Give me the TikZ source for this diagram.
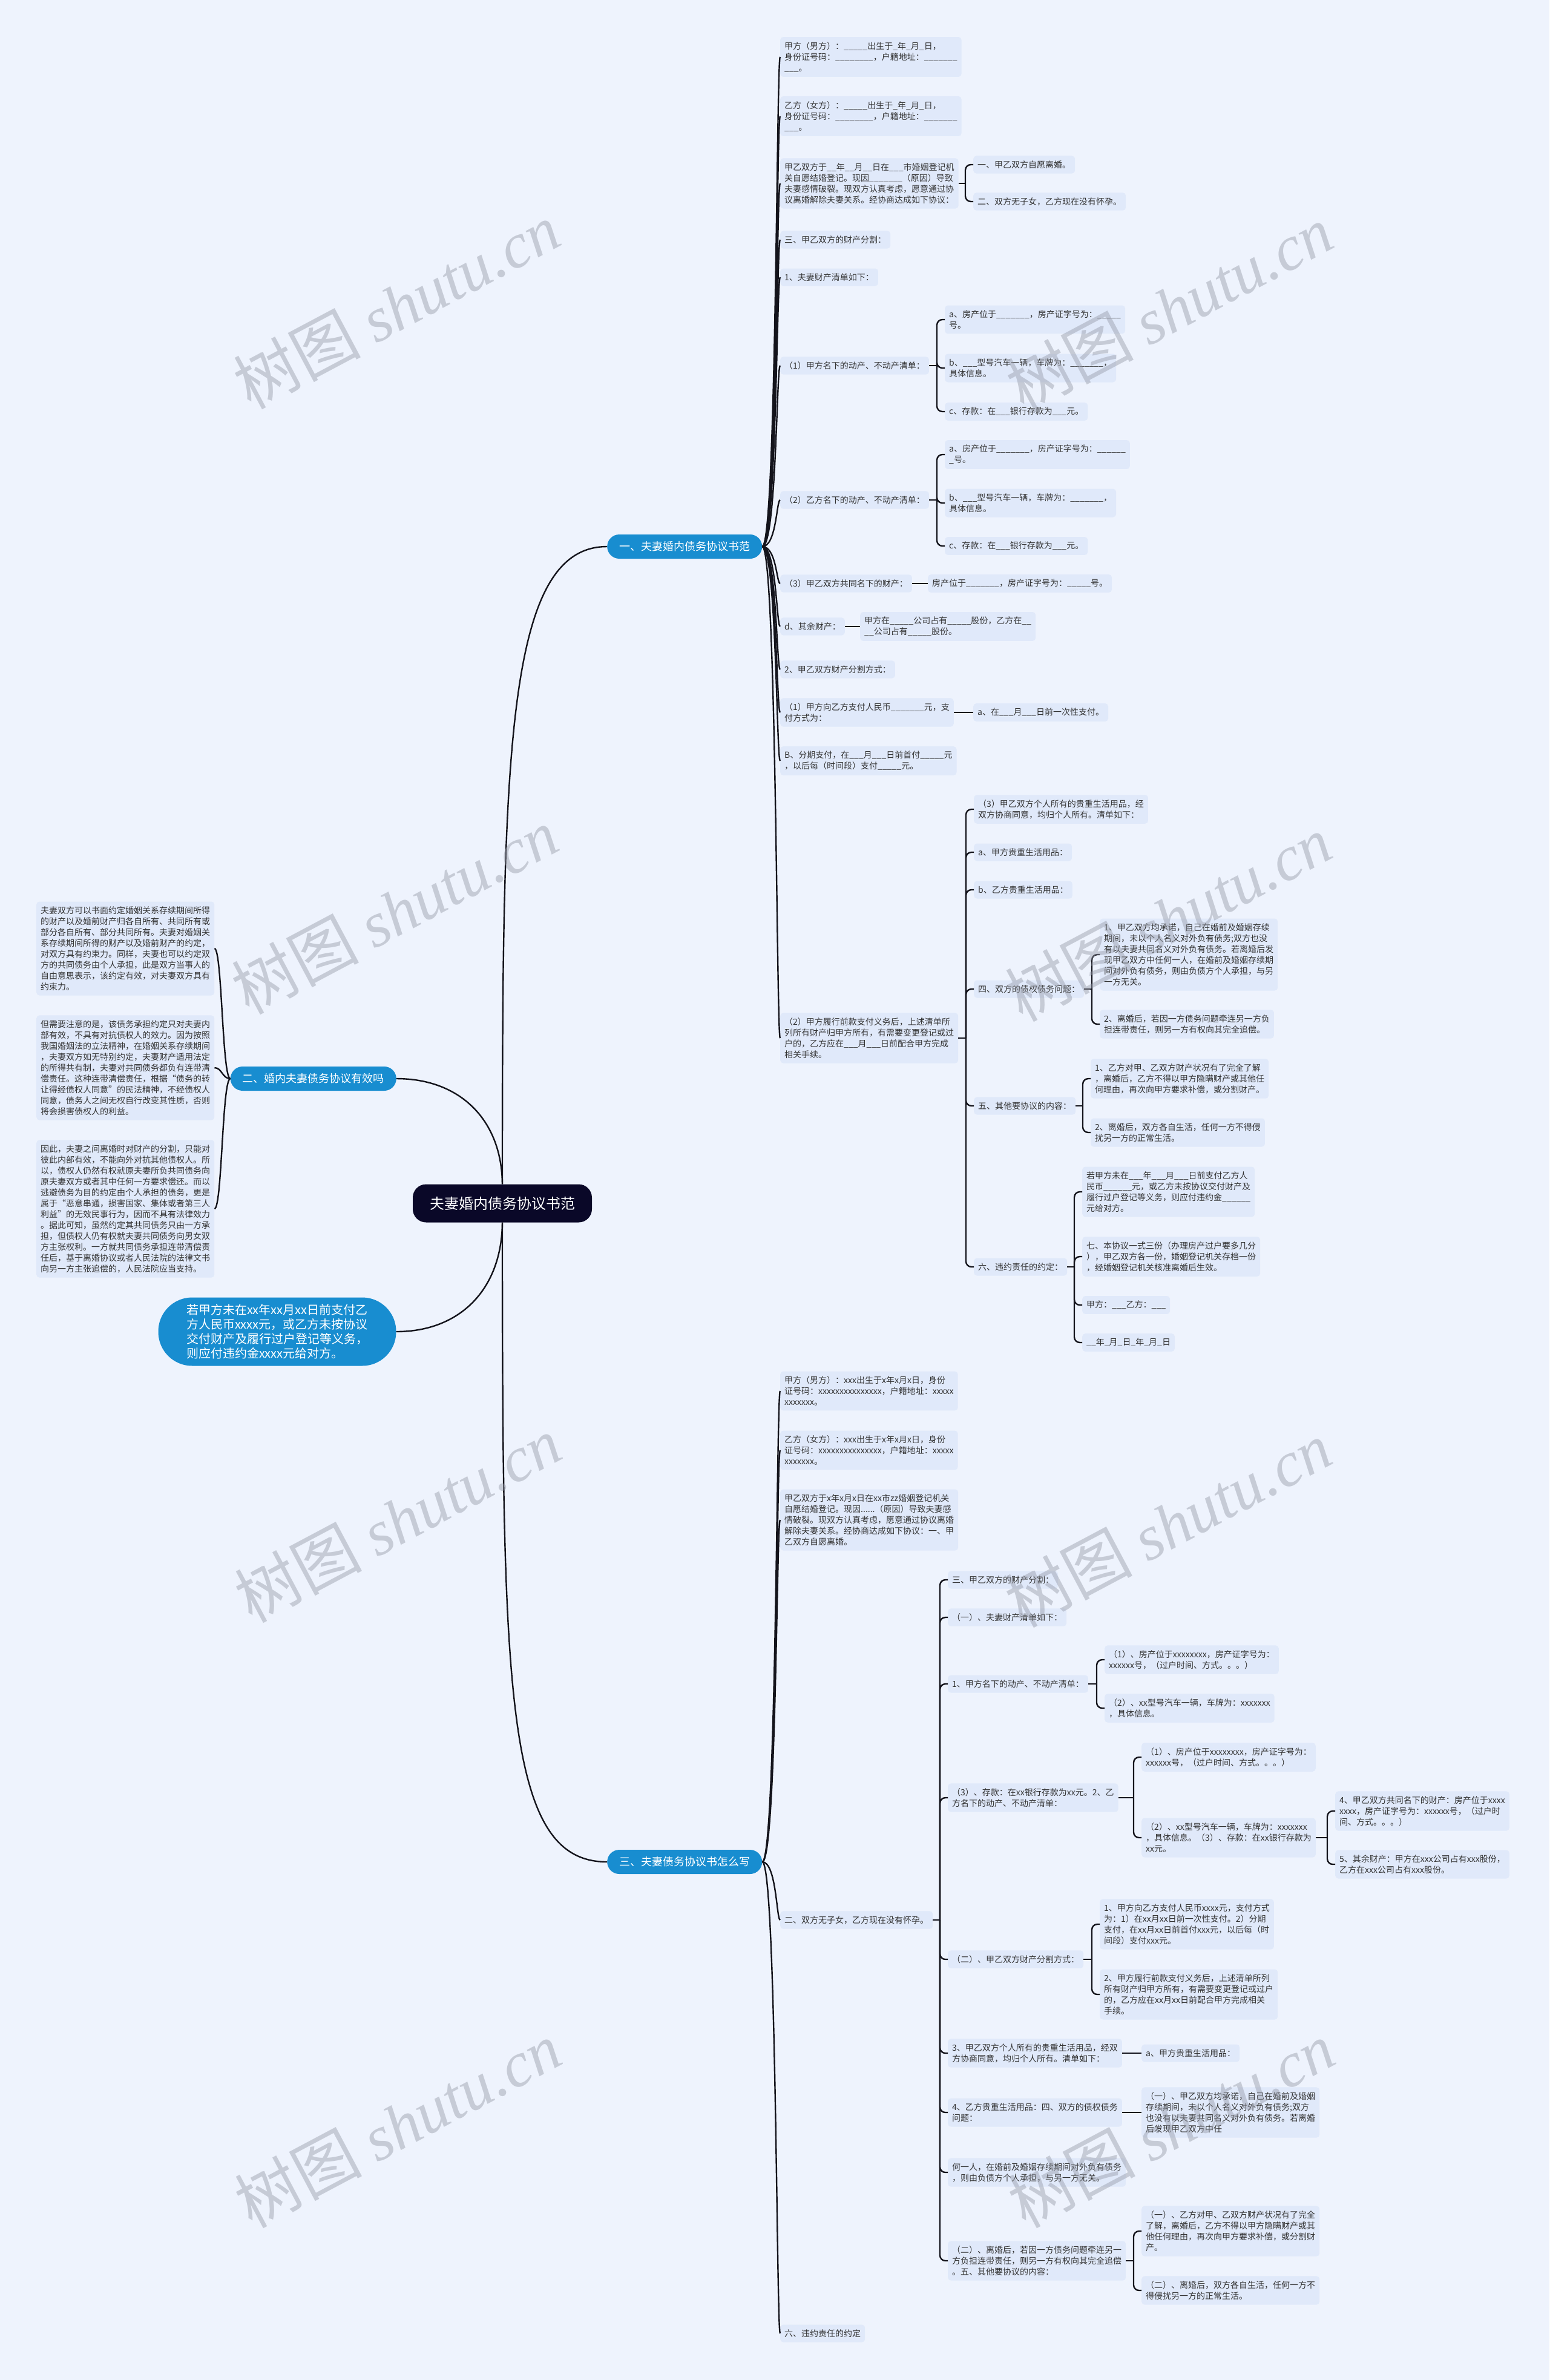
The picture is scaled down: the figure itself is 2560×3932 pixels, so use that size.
\documentclass[tikz,border=0pt]{standalone}
\usepackage{fontspec}
\setmainfont{Noto Sans CJK SC}
\newfontfamily\wmserif{Liberation Serif}
\usetikzlibrary{calc}
\definecolor{bgc}{RGB}{238,243,253}
\definecolor{leafc}{RGB}{224,233,250}
\definecolor{bluec}{RGB}{24,141,208}
\definecolor{rootc}{RGB}{10,8,40}
\definecolor{linec}{RGB}{20,20,28}
\definecolor{txtc}{RGB}{51,51,51}
\definecolor{wmc}{RGB}{150,155,168}
\newcommand\mmcurve[3]{\draw[conn] (#1.east) .. controls (#1.east -| #3) and (#2.west -| #3) .. (#2.west);}
\newcommand\mmcurvel[3]{\draw[conn] (#1.west) .. controls (#1.west -| #3) and (#2.east -| #3) .. (#2.east);}
\newcommand\mmbrk[2]{\draw[conn] (#1.east) -- ($(#1.east -| #2.west)+(-13,0)$);\draw[conn,rounded corners=9pt] ($(#1.east -| #2.west)+(-13,0)$) |- (#2.west);}
\newcommand\mmline[2]{\draw[conn] (#1.east) -- (#2.west);}
\begin{document}
\begin{tikzpicture}[x=1pt,y=-1pt,
  leaf/.style={fill=leafc,rounded corners=5pt,inner xsep=7pt,inner ysep=8pt,align=left,anchor=west,text=txtc,font=\fontsize{14}{18}\selectfont},
  branch/.style={fill=bluec,text=white,rounded corners=20pt,minimum height=40pt,inner xsep=20pt,inner ysep=0pt,font=\fontsize{18}{22}\selectfont},
  conn/.style={draw=linec,line width=2.4pt},
  wm/.style={text=wmc,opacity=0.45,rotate=28,font=\fontsize{105}{120}\selectfont}]
\fill[bgc] (0,0) rectangle (2560,3932);
\useasboundingbox (0,0) rectangle (2560,3932);

% root and branches
\node[fill=rootc,text=white,rounded corners=22pt,minimum width=296pt,minimum height=63pt,font=\fontsize{24}{28}\selectfont] (root) at (830,1988) {夫妻婚内债务协议书范};
\node[branch,anchor=west] (b1) at (1003,903) {一、夫妻婚内债务协议书范};
\node[branch,anchor=east] (b2) at (655,1782) {二、婚内夫妻债务协议有效吗};
\node[branch,anchor=west] (b3) at (1003,3076) {三、夫妻债务协议书怎么写};
\node[fill=bluec,text=white,rounded corners=56pt,minimum width=393pt,minimum height=113pt,align=left,font=\fontsize{20}{24}\selectfont] (bub) at (458,2200) {若甲方未在xx年xx月xx日前支付乙\\方人民币xxxx元，或乙方未按协议\\交付财产及履行过户登记等义务，\\则应付违约金xxxx元给对方。};

\coordinate (s1) at (1283,0);
\coordinate (s2) at (367,0);
\coordinate (s3) at (1283,0);

% section 1
\node[leaf] (A1) at (1289,94) {甲方（男方）：\_\_\_\_\_出生于\_年\_月\_日，\\身份证号码：\_\_\_\_\_\_\_\_，户籍地址：\_\_\_\_\_\_\_\\\_\_\_。};
\node[leaf] (A2) at (1289,192) {乙方（女方）：\_\_\_\_\_出生于\_年\_月\_日，\\身份证号码：\_\_\_\_\_\_\_\_，户籍地址：\_\_\_\_\_\_\_\\\_\_\_。};
\node[leaf] (A3) at (1289,303) {甲乙双方于\_\_年\_\_月\_\_日在\_\_\_市婚姻登记机\\关自愿结婚登记。现因\_\_\_\_\_\_\_（原因）导致\\夫妻感情破裂。现双方认真考虑，愿意通过协\\议离婚解除夫妻关系。经协商达成如下协议：};
\node[leaf] (A3a) at (1608,272) {一、甲乙双方自愿离婚。};
\node[leaf] (A3b) at (1608,333) {二、双方无子女，乙方现在没有怀孕。};
\node[leaf] (A4) at (1289,396) {三、甲乙双方的财产分割：};
\node[leaf] (A5) at (1289,458) {1、夫妻财产清单如下：};
\node[leaf] (A6) at (1289,604) {（1）甲方名下的动产、不动产清单：};
\node[leaf] (A6a) at (1561,528) {a、房产位于\_\_\_\_\_\_\_，房产证字号为：\_\_\_\_\_\\号。};
\node[leaf] (A6b) at (1561,608) {b、\_\_\_型号汽车一辆，车牌为：\_\_\_\_\_\_\_，\\具体信息。};
\node[leaf] (A6c) at (1561,680) {c、存款：在\_\_\_银行存款为\_\_\_元。};
\node[leaf] (A7) at (1289,826) {（2）乙方名下的动产、不动产清单：};
\node[leaf] (A7a) at (1561,751) {a、房产位于\_\_\_\_\_\_\_，房产证字号为：\_\_\_\_\_\_\\\_号。};
\node[leaf] (A7b) at (1561,831) {b、\_\_\_型号汽车一辆，车牌为：\_\_\_\_\_\_\_，\\具体信息。};
\node[leaf] (A7c) at (1561,902) {c、存款：在\_\_\_银行存款为\_\_\_元。};
\node[leaf] (A8) at (1289,964) {（3）甲乙双方共同名下的财产：};
\node[leaf] (A8a) at (1533,964) {房产位于\_\_\_\_\_\_\_，房产证字号为：\_\_\_\_\_号。};
\node[leaf] (A9) at (1289,1035) {d、其余财产：};
\node[leaf] (A9a) at (1421,1035) {甲方在\_\_\_\_\_公司占有\_\_\_\_\_股份，乙方在\_\_\\\_\_公司占有\_\_\_\_\_股份。};
\node[leaf] (A10) at (1289,1106) {2、甲乙双方财产分割方式：};
\node[leaf] (A11) at (1289,1177) {（1）甲方向乙方支付人民币\_\_\_\_\_\_\_元，支\\付方式为：};
\node[leaf] (A11a) at (1608,1177) {a、在\_\_\_月\_\_\_日前一次性支付。};
\node[leaf] (A12) at (1289,1257) {B、分期支付，在\_\_\_月\_\_\_日前首付\_\_\_\_\_元\\，以后每（时间段）支付\_\_\_\_\_元。};
\node[leaf] (A13) at (1289,1715) {（2）甲方履行前款支付义务后，上述清单所\\列所有财产归甲方所有，有需要变更登记或过\\户的，乙方应在\_\_\_月\_\_\_日前配合甲方完成\\相关手续。};
\node[leaf] (B1) at (1609,1337) {（3）甲乙双方个人所有的贵重生活用品，经\\双方协商同意，均归个人所有。清单如下：};
\node[leaf] (B2) at (1609,1408) {a、甲方贵重生活用品：};
\node[leaf] (B3) at (1609,1470) {b、乙方贵重生活用品：};
\node[leaf] (B4) at (1609,1634) {四、双方的债权债务问题：};
\node[leaf] (B4a) at (1817,1577) {1、甲乙双方均承诺，自己在婚前及婚姻存续\\期间，未以个人名义对外负有债务;双方也没\\有以夫妻共同名义对外负有债务。若离婚后发\\现甲乙双方中任何一人，在婚前及婚姻存续期\\间对外负有债务，则由负债方个人承担，与另\\一方无关。};
\node[leaf] (B4b) at (1817,1692) {2、离婚后，若因一方债务问题牵连另一方负\\担连带责任，则另一方有权向其完全追偿。};
\node[leaf] (B5) at (1609,1827) {五、其他要协议的内容：};
\node[leaf] (B5a) at (1802,1782) {1、乙方对甲、乙双方财产状况有了完全了解\\，离婚后，乙方不得以甲方隐瞒财产或其他任\\何理由，再次向甲方要求补偿，或分割财产。};
\node[leaf] (B5b) at (1802,1871) {2、离婚后，双方各自生活，任何一方不得侵\\扰另一方的正常生活。};
\node[leaf] (B6) at (1609,2093) {六、违约责任的约定：};
\node[leaf] (B6a) at (1788,1969) {若甲方未在\_\_\_年\_\_\_月\_\_\_日前支付乙方人\\民币\_\_\_\_\_\_元，或乙方未按协议交付财产及\\履行过户登记等义务，则应付违约金\_\_\_\_\_\_\\元给对方。};
\node[leaf] (B6b) at (1788,2076) {七、本协议一式三份（办理房产过户要多几分\\），甲乙双方各一份，婚姻登记机关存档一份\\，经婚姻登记机关核准离婚后生效。};
\node[leaf] (B6c) at (1788,2156) {甲方：\_\_\_乙方：\_\_\_};
\node[leaf] (B6d) at (1788,2218) {\_\_年\_月\_日\_年\_月\_日};

% section 2 (left)
\node[leaf] (L1) at (60,1567) {夫妻双方可以书面约定婚姻关系存续期间所得\\的财产以及婚前财产归各自所有、共同所有或\\部分各自所有、部分共同所有。夫妻对婚姻关\\系存续期间所得的财产以及婚前财产的约定，\\对双方具有约束力。同样，夫妻也可以约定双\\方的共同债务由个人承担，此是双方当事人的\\自由意思表示，该约定有效，对夫妻双方具有\\约束力。};
\node[leaf] (L2) at (60,1764) {但需要注意的是，该债务承担约定只对夫妻内\\部有效，不具有对抗债权人的效力。因为按照\\我国婚姻法的立法精神，在婚姻关系存续期间\\，夫妻双方如无特别约定，夫妻财产适用法定\\的所得共有制，夫妻对共同债务都负有连带清\\偿责任。这种连带清偿责任，根据“债务的转\\让得经债权人同意”的民法精神，不经债权人\\同意，债务人之间无权自行改变其性质，否则\\将会损害债权人的利益。};
\node[leaf] (L3) at (60,1997) {因此，夫妻之间离婚时对财产的分割，只能对\\彼此内部有效，不能向外对抗其他债权人。所\\以，债权人仍然有权就原夫妻所负共同债务向\\原夫妻双方或者其中任何一方要求偿还。而以\\逃避债务为目的约定由个人承担的债务，更是\\属于“恶意串通，损害国家、集体或者第三人\\利益”的无效民事行为，因而不具有法律效力\\。据此可知，虽然约定其共同债务只由一方承\\担，但债权人仍有权就夫妻共同债务向男女双\\方主张权利。一方就共同债务承担连带清偿责\\任后，基于离婚协议或者人民法院的法律文书\\向另一方主张追偿的，人民法院应当支持。};

% section 3
\node[leaf] (C1) at (1289,2298) {甲方（男方）：xxx出生于x年x月x日，身份\\证号码：xxxxxxxxxxxxxxx，户籍地址：xxxxx\\xxxxxxx。};
\node[leaf] (C2) at (1289,2396) {乙方（女方）：xxx出生于x年x月x日，身份\\证号码：xxxxxxxxxxxxxxx，户籍地址：xxxxx\\xxxxxxx。};
\node[leaf] (C3) at (1289,2511) {甲乙双方于x年x月x日在xx市zz婚姻登记机关\\自愿结婚登记。现因......（原因）导致夫妻感\\情破裂。现双方认真考虑，愿意通过协议离婚\\解除夫妻关系。经协商达成如下协议：一、甲\\乙双方自愿离婚。};
\node[leaf] (C4) at (1289,3172) {二、双方无子女，乙方现在没有怀孕。};
\node[leaf] (C5) at (1289,3855) {六、违约责任的约定};
\node[leaf] (D1) at (1566,2610) {三、甲乙双方的财产分割：};
\node[leaf] (D2) at (1566,2672) {（一）、夫妻财产清单如下：};
\node[leaf] (D3) at (1566,2782) {1、甲方名下的动产、不动产清单：};
\node[leaf] (D3a) at (1825,2742) {（1）、房产位于xxxxxxxx，房产证字号为：\\xxxxxx号，（过户时间、方式。。。）};
\node[leaf] (D3b) at (1825,2822) {（2）、xx型号汽车一辆，车牌为：xxxxxxx\\，具体信息。};
\node[leaf] (D4) at (1566,2970) {（3）、存款：在xx银行存款为xx元。2、乙\\方名下的动产、不动产清单：};
\node[leaf] (D4a) at (1886,2903) {（1）、房产位于xxxxxxxx，房产证字号为：\\xxxxxx号，（过户时间、方式。。。）};
\node[leaf] (D4b) at (1886,3036) {（2）、xx型号汽车一辆，车牌为：xxxxxxx\\，具体信息。（3）、存款：在xx银行存款为\\xx元。};
\node[leaf] (E1) at (2206,2992) {4、甲乙双方共同名下的财产：房产位于xxxx\\xxxx，房产证字号为：xxxxxx号，（过户时\\间、方式。。。）};
\node[leaf] (E2) at (2206,3080) {5、其余财产：甲方在xxx公司占有xxx股份，\\乙方在xxx公司占有xxx股份。};
\node[leaf] (D5) at (1566,3237) {（二）、甲乙双方财产分割方式：};
\node[leaf] (D5a) at (1817,3179) {1、甲方向乙方支付人民币xxxx元，支付方式\\为：1）在xx月xx日前一次性支付。2）分期\\支付，在xx月xx日前首付xxx元，以后每（时\\间段）支付xxx元。};
\node[leaf] (D5b) at (1817,3295) {2、甲方履行前款支付义务后，上述清单所列\\所有财产归甲方所有，有需要变更登记或过户\\的，乙方应在xx月xx日前配合甲方完成相关\\手续。};
\node[leaf] (D6) at (1566,3392) {3、甲乙双方个人所有的贵重生活用品，经双\\方协商同意，均归个人所有。清单如下：};
\node[leaf] (D6a) at (1886,3392) {a、甲方贵重生活用品：};
\node[leaf] (D7) at (1566,3490) {4、乙方贵重生活用品：四、双方的债权债务\\问题：};
\node[leaf] (D7a) at (1886,3490) {（一）、甲乙双方均承诺，自己在婚前及婚姻\\存续期间，未以个人名义对外负有债务;双方\\也没有以夫妻共同名义对外负有债务。若离婚\\后发现甲乙双方中任};
\node[leaf] (D8) at (1566,3589) {何一人，在婚前及婚姻存续期间对外负有债务\\，则由负债方个人承担，与另一方无关。};
\node[leaf] (D9) at (1566,3735) {（二）、离婚后，若因一方债务问题牵连另一\\方负担连带责任，则另一方有权向其完全追偿\\。五、其他要协议的内容：};
\node[leaf] (D9a) at (1886,3686) {（一）、乙方对甲、乙双方财产状况有了完全\\了解，离婚后，乙方不得以甲方隐瞒财产或其\\他任何理由，再次向甲方要求补偿，或分割财\\产。};
\node[leaf] (D9b) at (1886,3784) {（二）、离婚后，双方各自生活，任何一方不\\得侵扰另一方的正常生活。};

% root connectors
\draw[conn] (root.north) .. controls (830,1250) and (835,903) .. (b1.west);
\draw[conn] (b2.east) .. controls (760,1782) and (829,1850) .. (root.north);
\draw[conn] (bub.east) .. controls (760,2200) and (829,2130) .. (root.south);
\draw[conn] (root.south) .. controls (830,2800) and (835,3076) .. (b3.west);

% section 1 connectors
\foreach \c in {A1,A2,A3,A4,A5,A6,A7,A8,A9,A10,A11,A12,A13}{\mmcurve{b1}{\c}{s1}}
\mmbrk{A3}{A3a}\mmbrk{A3}{A3b}
\mmbrk{A6}{A6a}\mmbrk{A6}{A6b}\mmbrk{A6}{A6c}
\mmbrk{A7}{A7a}\mmbrk{A7}{A7b}\mmbrk{A7}{A7c}
\mmline{A8}{A8a}\mmline{A9}{A9a}\mmline{A11}{A11a}
\foreach \c in {B1,B2,B3,B4,B5,B6}{\mmbrk{A13}{\c}}
\mmbrk{B4}{B4a}\mmbrk{B4}{B4b}
\mmbrk{B5}{B5a}\mmbrk{B5}{B5b}
\foreach \c in {B6a,B6b,B6c,B6d}{\mmbrk{B6}{\c}}

% section 2 connectors
\foreach \c in {L1,L2,L3}{\mmcurvel{b2}{\c}{s2}}

% section 3 connectors
\foreach \c in {C1,C2,C3,C4,C5}{\mmcurve{b3}{\c}{s3}}
\foreach \c in {D1,D2,D3,D4,D5,D6,D7,D8,D9}{\mmbrk{C4}{\c}}
\mmbrk{D3}{D3a}\mmbrk{D3}{D3b}
\mmbrk{D4}{D4a}\mmbrk{D4}{D4b}
\mmbrk{D4b}{E1}\mmbrk{D4b}{E2}
\mmbrk{D5}{D5a}\mmbrk{D5}{D5b}
\mmline{D6}{D6a}\mmline{D7}{D7a}
\mmbrk{D9}{D9a}\mmbrk{D9}{D9b}

% watermarks
\foreach \p in {(655,505),(1932,509),(652,1505),(1930,1517),(657,2510),(1930,2518),(657,3510),(1935,3510)}{
  \node[wm] at \p {树图 {\wmserif\itshape shutu.cn}};
}
\end{tikzpicture}
\end{document}
